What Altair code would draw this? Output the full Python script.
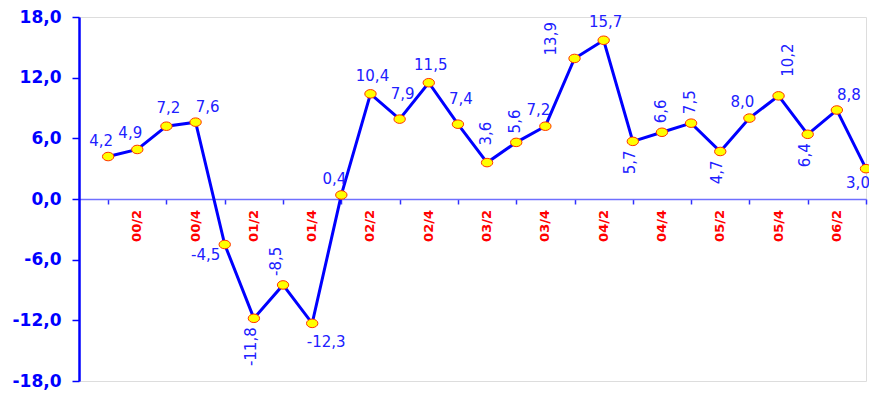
import altair as alt
import pandas as pd

quarters = [
    "00/1", "00/2", "00/3", "00/4",
    "01/1", "01/2", "01/3", "01/4",
    "02/1", "02/2", "02/3", "02/4",
    "03/1", "03/2", "03/3", "03/4",
    "04/1", "04/2", "04/3", "04/4",
    "05/1", "05/2", "05/3", "05/4",
    "06/1", "06/2", "06/3",
]
values = [4.2, 4.9, 7.2, 7.6, -4.5, -11.8, -8.5, -12.3, 0.4, 10.4, 7.9, 11.5, 7.4,
          3.6, 5.6, 7.2, 13.9, 15.7, 5.7, 6.6, 7.5, 4.7, 8.0, 10.2, 6.4, 8.8, 3.0]
y_ticks = [-18, -12, -6, 0, 6, 12, 18]

# label placement (style) per point
placement = ["NW", "NW", "N", "NE", "SW", "VS", "VNL", "SE", "NW", "N", "NH", "N", "NH",
             "VNH", "VN", "NW", "VNW", "N", "VS", "VN", "VN", "VS", "NW", "VNE", "VS", "NE", "S"]

styles = {
    "N":   dict(dx=2, dy=-18, angle=0, align="center"),
    "NH":  dict(dx=3, dy=-25, angle=0, align="center"),
    "NW":  dict(dx=-7, dy=-16, angle=0, align="center"),
    "NE":  dict(dx=12, dy=-15, angle=0, align="center"),
    "SW":  dict(dx=-19, dy=10, angle=0, align="center"),
    "SE":  dict(dx=14, dy=19, angle=0, align="center"),
    "S":   dict(dx=-8, dy=14, angle=0, align="center"),
    "VN":  dict(dx=9, dy=-1, angle=270, align="left"),
    "VNL": dict(dx=9, dy=-7, angle=270, align="left"),
    "VNH": dict(dx=17, dy=-1, angle=270, align="left"),
    "VNE": dict(dx=19, dy=9, angle=270, align="left"),
    "VNW": dict(dx=3, dy=-24, angle=270, align="left"),
    "VS":  dict(dx=-9, dy=-3, angle=270, align="right"),
}

df = pd.DataFrame({
    "i": list(range(1, len(values) + 1)),
    "q": quarters,
    "v": values,
    "lbl": [f"{v:.1f}".replace(".", ",") for v in values],
    "place": placement,
})

BLUE = "#0000ff"
LABEL_BLUE = "#2020ff"
H = 364

x_enc = alt.X(
    "i:Q",
    scale=alt.Scale(domain=[0, len(values)], nice=False, zero=False),
    axis=alt.Axis(
        values=list(range(1, len(values) + 1)),
        labels=False,
        orient="bottom",
        offset=-H / 2,
        title=None,
        grid=False,
        domainColor="#6f6fff",
        domainWidth=1.5,
        tickColor="#3030ff",
        tickWidth=1.5,
        tickSize=5,
    ),
)
y_enc = alt.Y(
    "v:Q",
    scale=alt.Scale(domain=[-18, 18], nice=False, zero=False),
    axis=alt.Axis(
        values=y_ticks,
        labelExpr="(datum.value < 0 ? '-' : '') + replace(format(abs(datum.value), '.1f'), '.', ',')",
        title=None,
        grid=False,
        domainColor=BLUE,
        domainWidth=2.5,
        tickColor=BLUE,
        tickWidth=1.5,
        tickSize=7,
        labelColor=BLUE,
        labelFont="DejaVu Sans",
        labelFontWeight="bold",
        labelFontSize=17,
        labelPadding=11,
        labelOverlap=False,
    ),
)

base = alt.Chart(df)

line = base.mark_line(color=BLUE, strokeWidth=3).encode(x=x_enc, y=y_enc)

ellipse = "M -1 0 A 1 0.75 0 1 0 1 0 A 1 0.75 0 1 0 -1 0 Z"
points = base.mark_point(
    shape=ellipse, filled=True, fill="#ffff00", fillOpacity=1,
    stroke="#ff3300", strokeWidth=1, strokeOpacity=1, opacity=1, size=130,
).encode(x="i:Q", y="v:Q")

# category labels along the zero line (every second quarter)
x_labels = base.transform_filter("datum.i % 2 == 0").mark_text(
    font="DejaVu Sans", fontWeight="bold", fontSize=13, color="#ff0000",
    angle=270, align="right", baseline="middle", dx=-11,
).encode(x="i:Q", y=alt.datum(0), text="q:N")

label_layers = []
for name, st in styles.items():
    label_layers.append(
        base.transform_filter(alt.datum.place == name)
        .mark_text(
            font="DejaVu Sans", fontSize=15, color=LABEL_BLUE,
            baseline="middle", **st,
        )
        .encode(x="i:Q", y="v:Q", text="lbl:N")
    )

chart = alt.layer(line, points, x_labels, *label_layers).properties(
    width=787,
    height=H,
    autosize=alt.AutoSizeParams(type="none"),
    padding={"left": 71, "top": 9, "right": 3, "bottom": 12},
).configure_view(
    stroke=BLUE, strokeWidth=1.5
).configure(background="white")

chart.save("out.html", embed_options={"renderer": "svg", "actions": False})
